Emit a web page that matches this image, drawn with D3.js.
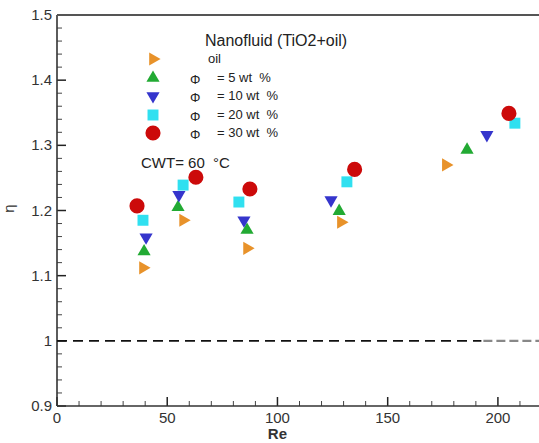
<!DOCTYPE html>
<html>
<head>
<meta charset="utf-8">
<script src="https://cdn.jsdelivr.net/npm/d3@7"></script>
<style>
  body { margin: 0; background: #fff; }
  svg { display: block; font-family: "Liberation Sans", Arial, sans-serif; }
</style>
</head>
<body>
<div id="chart"></div>
<script>
// data
const seriesNames = ["oil", "5 wt", "10 wt", "20 wt", "30 wt"];
const oilRe   = [39.0, 57.2, 86.2, 128.8, 176.4];
const oilEta  = [1.112, 1.185, 1.142, 1.182, 1.270];
const phi5Re  = [39.5, 54.9, 86.2, 128.0, 186.0];
const phi5Eta = [1.137, 1.205, 1.170, 1.199, 1.293];
const phi10Re  = [40.4, 55.3, 84.8, 124.3, 195.0];
const phi10Eta = [1.159, 1.224, 1.185, 1.216, 1.316];
const phi20Re  = [39.0, 57.2, 82.5, 131.5, 207.7];
const phi20Eta = [1.185, 1.239, 1.213, 1.244, 1.334];
const phi30Re  = [36.3, 63.0, 87.5, 135.0, 205.0];
const phi30Eta = [1.207, 1.251, 1.233, 1.263, 1.349];
const xTicks = [0, 50, 100, 150, 200];
const yTicks = [0.9, 1, 1.1, 1.2, 1.3, 1.4, 1.5];

const W = 539, H = 443;
const margin = { top: 15, left: 57, bottom: 37, right: -3 };

const svg = d3.select("#chart").append("svg")
    .attr("width", W)
    .attr("height", H);

const x = d3.scaleLinear().domain([0, 220]).range([margin.left, W - margin.right]);
const y = d3.scaleLinear().domain([0.9, 1.5]).range([H - margin.bottom, margin.top]);

// minor ticks
const xMinor = d3.range(0, 221, 10).filter(v => v % 50 !== 0);
const yMinor = d3.range(0.9, 1.5001, 0.02).filter(v => Math.abs(v * 10 - Math.round(v * 10)) > 0.01);

svg.append("g").selectAll("line").data(xMinor).enter().append("line")
    .attr("x1", d => x(d)).attr("x2", d => x(d))
    .attr("y1", y(0.9)).attr("y2", y(0.9) - 5)
    .attr("stroke", "#444").attr("stroke-width", 1);
svg.append("g").selectAll("line").data(xTicks).enter().append("line")
    .attr("x1", d => x(d)).attr("x2", d => x(d))
    .attr("y1", y(0.9)).attr("y2", y(0.9) - 9)
    .attr("stroke", "#222").attr("stroke-width", 1.5);
svg.append("g").selectAll("line").data(yMinor).enter().append("line")
    .attr("x1", x(0)).attr("x2", x(0) + 5)
    .attr("y1", d => y(d)).attr("y2", d => y(d))
    .attr("stroke", "#444").attr("stroke-width", 1);
svg.append("g").selectAll("line").data(yTicks).enter().append("line")
    .attr("x1", x(0)).attr("x2", x(0) + 9)
    .attr("y1", d => y(d)).attr("y2", d => y(d))
    .attr("stroke", "#222").attr("stroke-width", 1.5);

// frame
svg.append("line")
    .attr("x1", x(0)).attr("x2", W).attr("y1", y(0.9)).attr("y2", y(0.9))
    .attr("stroke", "#333").attr("stroke-width", 1.6);
svg.append("line")
    .attr("x1", x(0)).attr("x2", x(0)).attr("y1", y(0.9)).attr("y2", y(1.5))
    .attr("stroke", "#333").attr("stroke-width", 1.6);
svg.append("line")
    .attr("x1", x(0)).attr("x2", W).attr("y1", y(1.5)).attr("y2", y(1.5))
    .attr("stroke", "#555").attr("stroke-width", 2);

// tick labels
svg.append("g").selectAll("text").data(xTicks).enter().append("text")
    .attr("x", d => x(d)).attr("y", y(0.9) + 17)
    .attr("text-anchor", "middle")
    .attr("font-size", 15).attr("fill", "#333")
    .text(d => d);
svg.append("g").selectAll("text").data(yTicks).enter().append("text")
    .attr("x", x(0) - 5).attr("y", d => y(d) + 5)
    .attr("text-anchor", "end")
    .attr("font-size", 15).attr("fill", "#333")
    .text(d => d);

// axis titles
svg.append("text")
    .attr("x", x(100)).attr("y", H - 4)
    .attr("text-anchor", "middle")
    .attr("font-size", 15).attr("font-weight", "bold").attr("fill", "#333")
    .text("Re");
svg.append("text")
    .attr("transform", `translate(14,${y(1.2) - 2}) rotate(-90)`)
    .attr("text-anchor", "middle")
    .attr("font-size", 15).attr("fill", "#333")
    .text("η");

// reference line eta = 1
svg.append("line")
    .attr("x1", x(0)).attr("x2", x(192.5)).attr("y1", y(1)).attr("y2", y(1))
    .attr("stroke", "#111").attr("stroke-width", 1.6)
    .attr("stroke-dasharray", "10,6");
svg.append("line")
    .attr("x1", x(192.5) + 2).attr("x2", W).attr("y1", y(1)).attr("y2", y(1))
    .attr("stroke", "#888").attr("stroke-width", 2.2)
    .attr("stroke-dasharray", "9,4");

// markers
const tri = d3.symbol().type(d3.symbolTriangle).size(75);
const sq = d3.symbol().type(d3.symbolSquare).size(120);
const circ = d3.symbol().type(d3.symbolCircle).size(180);
const series = [
    { re: oilRe,   eta: oilEta,   color: "#e8922a", path: tri(),  rot: 90 },
    { re: phi5Re,  eta: phi5Eta,  color: "#22aa33", path: tri(),  rot: 0 },
    { re: phi10Re, eta: phi10Eta, color: "#3535cc", path: tri(),  rot: 180 },
    { re: phi20Re, eta: phi20Eta, color: "#30e0f0", path: sq(),   rot: 0 },
    { re: phi30Re, eta: phi30Eta, color: "#cc0a0a", path: circ(), rot: 0 }
];

series.forEach(s => {
    svg.append("g").selectAll("path").data(s.re).enter().append("path")
        .attr("d", s.path)
        .attr("transform", (d, i) => `translate(${x(d)},${y(s.eta[i])}) rotate(${s.rot})`)
        .attr("fill", s.color);
});

// legend
svg.append("text")
    .attr("x", 205).attr("y", 46)
    .attr("font-size", 16).attr("fill", "#222")
    .text("Nanofluid (TiO2+oil)");

const legY = [59, 78, 96, 115, 133];
series.forEach((s, i) => {
    svg.append("path")
        .attr("d", s.path)
        .attr("transform", `translate(153,${legY[i]}) rotate(${s.rot})`)
        .attr("fill", s.color);
    if (i === 0) {
        svg.append("text")
            .attr("x", 208).attr("y", legY[i] + 4)
            .attr("font-size", 13).attr("fill", "#222")
            .text(seriesNames[i]);
    } else {
        svg.append("text")
            .attr("x", 190).attr("y", legY[i] + 6)
            .attr("font-size", 13).attr("fill", "#222")
            .text("Φ");
        svg.append("text")
            .attr("x", 217).attr("y", legY[i] + 4)
            .attr("font-size", 13).attr("fill", "#222")
            .attr("xml:space", "preserve")
            .text("= " + seriesNames[i] + "  %");
    }
});

svg.append("text")
    .attr("x", 141).attr("y", 168)
    .attr("font-size", 15).attr("fill", "#222")
    .attr("xml:space", "preserve")
    .text("CWT= 60  °C");
</script>
</body>
</html>
